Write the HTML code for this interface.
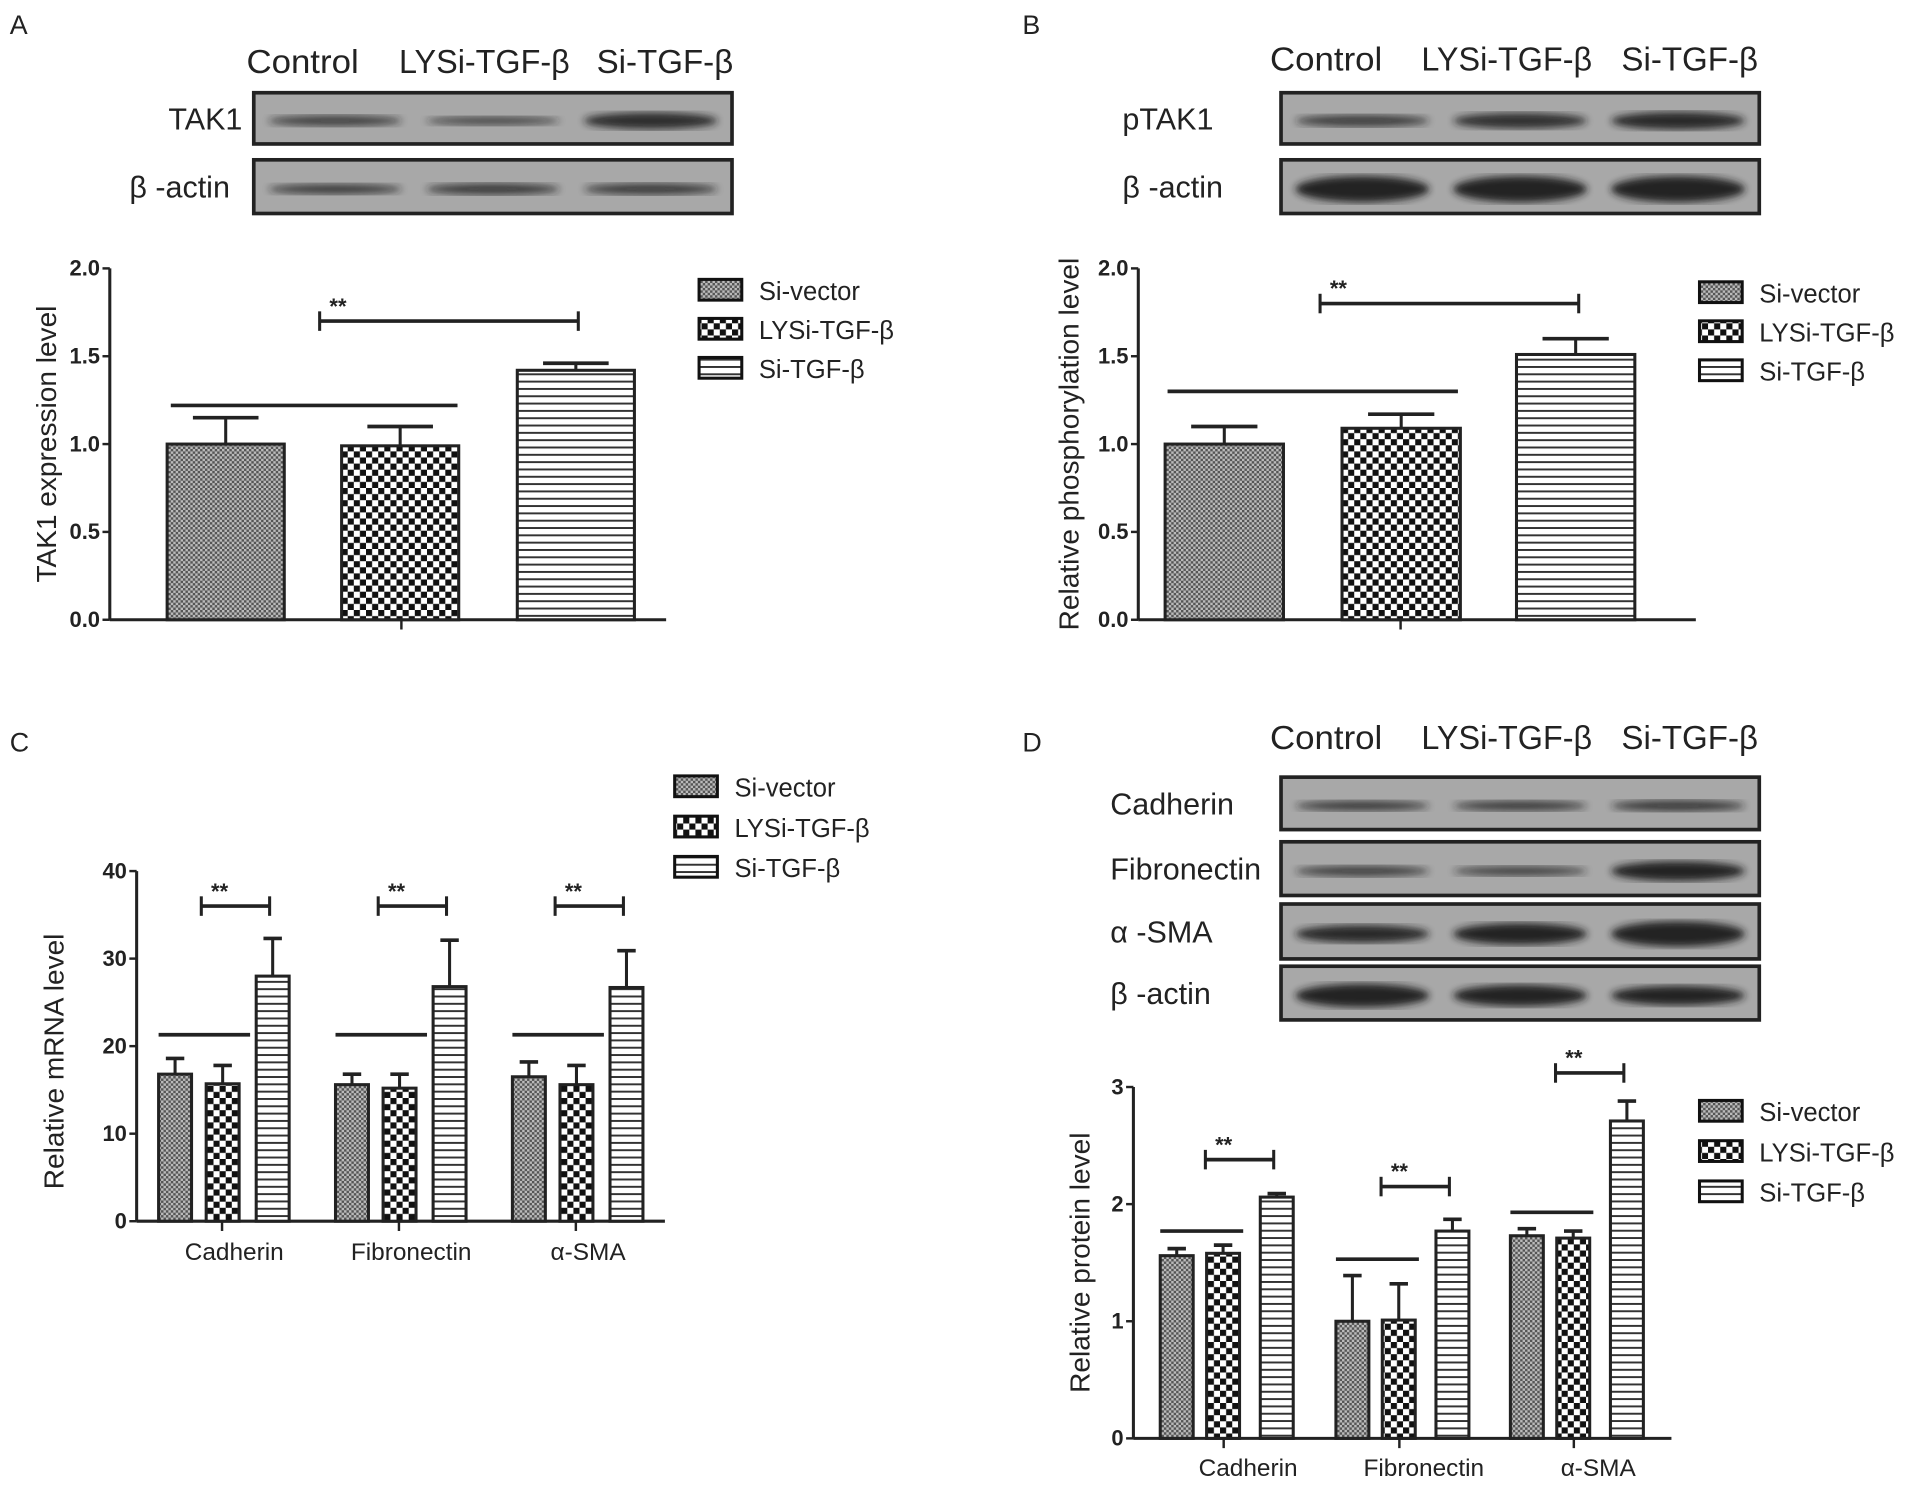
<!DOCTYPE html>
<html><head><meta charset="utf-8">
<style>
html,body{margin:0;padding:0;background:#fff;}
svg{display:block;}
text{font-family:"Liberation Sans",Arial,sans-serif;fill:#222;}
</style></head>
<body>
<svg id="fig" width="1913" height="1489" viewBox="0 0 1568 1220.5" preserveAspectRatio="none" xmlns="http://www.w3.org/2000/svg">
<defs>
<pattern id="pFine" width="4" height="4" patternUnits="userSpaceOnUse"><rect width="4" height="4" fill="#bbb"/><rect width="2" height="2" fill="#555"/><rect x="2" y="2" width="2" height="2" fill="#555"/></pattern>
<pattern id="pChk" width="10" height="10" patternUnits="userSpaceOnUse"><rect width="10" height="10" fill="#fff"/><rect width="5" height="5" fill="#111"/><rect x="5" y="5" width="5" height="5" fill="#111"/></pattern>
<pattern id="pStr" width="6" height="6" patternUnits="userSpaceOnUse"><rect width="6" height="6" fill="#fff"/><rect y="0" width="6" height="1.6" fill="#333"/></pattern>
<filter id="blur"><feGaussianBlur stdDeviation="3"/></filter>
</defs>
<g id="root"></g>
</svg>
<script>
// ---- data ----
const groupNames = ["Si-vector","LYSi-TGF-β","Si-TGF-β"];
const catsC = ["Cadherin","Fibronectin","α-SMA"];
const catsD = ["Cadherin","Fibronectin","α-SMA"];
const valsA = [1.0, 0.99, 1.42];
const errA = [1.15, 1.10, 1.46];
const valsB = [1.0, 1.09, 1.51];
const errB = [1.10, 1.17, 1.60];
const valsC_vec = [16.8, 15.6, 16.5];
const valsC_ly = [15.7, 15.2, 15.6];
const valsC_si = [28.0, 26.8, 26.7];
const errC_vec = [18.6, 16.8, 18.2];
const errC_ly = [17.8, 16.8, 17.8];
const errC_si = [32.3, 32.1, 30.9];
const valsD_vec = [1.56, 1.0, 1.73];
const valsD_ly = [1.58, 1.01, 1.71];
const valsD_si = [2.06, 1.77, 2.71];
const errD_vec = [1.62, 1.39, 1.79];
const errD_ly = [1.65, 1.32, 1.77];
const errD_si = [2.09, 1.87, 2.88];
const ticksAB = ["0.0","0.5","1.0","1.5","2.0"];
const ticksC = ["0","10","20","30","40"];
const ticksD = ["0","1","2","3"];
const sigA = [1.70, 1.22];
const sigB = [1.80, 1.30];
const sigC = [36, 21.3];
const sigD_brk = [2.38, 2.15, 3.12];
const sigD_line = [1.77, 1.53, 1.93];

const NS="http://www.w3.org/2000/svg";
const root=document.getElementById('root');
const fills=["url(#pFine)","url(#pChk)","url(#pStr)"];
function mk(tag,attrs,parent){const e=document.createElementNS(NS,tag);for(const k in attrs)e.setAttribute(k,attrs[k]);(parent||root).appendChild(e);return e;}
function txt(s,x,y,size,anchor,parent,extra){const t=mk('text',Object.assign({x:x,y:y,'font-size':size,'text-anchor':anchor||'start'},extra||{}),parent);t.textContent=s;return t;}

function panelLabel(s,x,y){const t=txt(s,x,y,22,'start');}

function blot(g,x,y,w,h,label,lx,intens,bw){
  const b=mk('g',{},g);
  
  
  mk('rect',{x:x,y:y,width:w,height:h,fill:'#a8a8a8',stroke:'#222','stroke-width':3},b);
  const cx=[x+w*0.17,x+w*0.5,x+w*0.83];
  for(let i=0;i<3;i++){
    mk('ellipse',{cx:cx[i],cy:y+h/2+2,rx:w*0.14,ry:bw*intens[i],fill:'#1a1a1a',opacity:Math.min(0.95,0.45+0.5*intens[i]),filter:'url(#blur)'},b);
  }
  txt(label,lx,y+h/2+9,25,'start',b);
}
function header(g,y,xs){
  const names=["Control","LYSi-TGF-β","Si-TGF-β"];
  for(let i=0;i<3;i++){const t=txt(names[i],xs[i],y,27,'middle',g,{'textLength':i==0?92:(i==1?140:112),'lengthAdjust':'spacingAndGlyphs'});}
}
function legend(g,x,y0,dy){
  for(let i=0;i<3;i++){
    const lg=mk('g',{},g);
    
    
    mk('rect',{x:x,y:y0+i*dy-8,width:35,height:17,fill:fills[i],stroke:'#111','stroke-width':2.5},lg);
    txt(groupNames[i],x+49,y0+i*dy+9,21,'start',lg,{fill:'#444'});
  }
}
function axes(g,ax,y0,xEnd,ticks,scale,title,tx,tcy){
  const a=mk('g',{},g);
  
  
  mk('line',{x1:ax,y1:scale(+ticks[ticks.length-1]),x2:ax,y2:y0,stroke:'#222','stroke-width':2.5},a);
  ticks.forEach(t=>{const y=scale(+t);mk('line',{x1:ax-6,y1:y,x2:ax,y2:y,stroke:'#222','stroke-width':2},a);txt(t,ax-8,y+6,18,'end',a,{'font-weight':'bold'});});
  const xa=mk('line',{x1:ax,y1:y0,x2:xEnd,y2:y0,stroke:'#222','stroke-width':2.5},g);
  
  
  const tt=txt(title,tx,tcy,23,'middle',g,{transform:'rotate(-90 '+tx+' '+tcy+')'});
  
  
}
function bar(g,x,w,v,e,scale,i,name){
  const y0=scale(0),y=scale(v),ye=scale(e),cx=x+w/2;
  mk('line',{x1:cx,y1:y,x2:cx,y2:ye,stroke:'#222','stroke-width':2.5},g);
  mk('line',{x1:cx-w*0.28,y1:ye,x2:cx+w*0.28,y2:ye,stroke:'#222','stroke-width':3},g);
  const r=mk('rect',{x:x,y:y,width:w,height:y0-y,fill:fills[i],stroke:'#222','stroke-width':2.5},g);
  
  
}
function bracket(g,x1,x2,y,name){
  const b=mk('g',{},g);
  
  
  mk('line',{x1:x1,y1:y,x2:x2,y2:y,stroke:'#222','stroke-width':3},b);
  mk('line',{x1:x1,y1:y-8,x2:x1,y2:y+8,stroke:'#222','stroke-width':2.5},b);
  mk('line',{x1:x2,y1:y-8,x2:x2,y2:y+8,stroke:'#222','stroke-width':2.5},b);
  txt('**',x1+8,y-6,18,'start',b,{'font-weight':'bold'});
}
function hline(g,x1,x2,y,name){const l=mk('line',{x1:x1,y1:y,x2:x2,y2:y,stroke:'#222','stroke-width':3},g);}

// ---- Panel A ----
(function(){
  const g=mk('g',{});
  panelLabel('A',8,28);
  header(g,60,[248,397,545]);
  blot(g,208,76,392,42,'TAK1',138,[0.55,0.45,0.85],8);
  blot(g,208,131,392,44,'β -actin',106,[0.6,0.65,0.65],7);
  const s=v=>508-v*144;
  axes(g,90,508,546,ticksAB,s,'TAK1 expression level',46,364);
  const xs=[137,280,424],w=96;
  for(let i=0;i<3;i++)bar(g,xs[i],w,valsA[i],errA[i],s,i,'bar-a-'+i);
  mk('line',{x1:329,y1:508,x2:329,y2:516,stroke:'#222','stroke-width':2},g);
  bracket(g,262,474,s(sigA[0]),'sig-bracket-a');
  hline(g,140,375,s(sigA[1]),'sig-line-a');
  legend(g,573,237,32);
})();
// ---- Panel B ----
(function(){
  const g=mk('g',{});
  panelLabel('B',838,28);
  header(g,58,[1087,1235,1385]);
  blot(g,1050,76,392,42,'pTAK1',920,[0.6,0.8,0.9],8);
  blot(g,1050,131,392,44,'β -actin',920,[1.2,1.2,1.2],9);
  const s=v=>508-v*144;
  axes(g,933,508,1390,ticksAB,s,'Relative phosphorylation level',884,364);
  const xs=[955,1100,1243],w=97;
  for(let i=0;i<3;i++)bar(g,xs[i],w,valsB[i],errB[i],s,i,'bar-b-'+i);
  mk('line',{x1:1148,y1:508,x2:1148,y2:516,stroke:'#222','stroke-width':2},g);
  bracket(g,1082,1294,s(sigB[0]),'sig-bracket-b');
  hline(g,957,1195,s(sigB[1]),'sig-line-b');
  legend(g,1393,239,32);
})();
// ---- Panel C ----
(function(){
  const g=mk('g',{});
  panelLabel('C',8,616);
  const s=v=>1001-v*7.175;
  axes(g,112,1001,545,ticksC,s,'Relative mRNA level',52,870);
  const starts=[130,275,420],offs=[0,39,80],w=27;
  const V=[valsC_vec,valsC_ly,valsC_si],E=[errC_vec,errC_ly,errC_si];
  for(let c=0;c<3;c++){
    for(let i=0;i<3;i++)bar(g,starts[c]+offs[i],w,V[i][c],E[i][c],s,i,'bar-c-'+c+'-'+i);
    mk('line',{x1:starts[c]+52,y1:1001,x2:starts[c]+52,y2:1009,stroke:'#222','stroke-width':2},g);
    const t=txt(catsC[c],starts[c]+62,1033,20,'middle',g);
    bracket(g,starts[c]+35,starts[c]+91,s(sigC[0]),'sig-bracket-c-'+c);
    hline(g,starts[c],starts[c]+75,s(sigC[1]),'sig-line-c-'+c);
  }
  legend(g,553,644,33);
})();
// ---- Panel D ----
(function(){
  const g=mk('g',{});
  panelLabel('D',838,616);
  header(g,614,[1087,1235,1385]);
  blot(g,1050,637,392,43,'Cadherin',910,[0.6,0.6,0.65],7);
  blot(g,1050,690,392,44,'Fibronectin',910,[0.55,0.5,1.0],8);
  blot(g,1050,741,392,45,'α -SMA',910,[0.9,1.1,1.3],8);
  blot(g,1050,792,392,44,'β -actin',910,[1.2,1.1,1.0],8);
  const s=v=>1179-v*96;
  axes(g,929,1179,1370,ticksD,s,'Relative protein level',893,1035);
  const starts=[951,1095,1238],offs=[0,38,82],w=27;
  const V=[valsD_vec,valsD_ly,valsD_si],E=[errD_vec,errD_ly,errD_si];
  for(let c=0;c<3;c++){
    for(let i=0;i<3;i++)bar(g,starts[c]+offs[i],w,V[i][c],E[i][c],s,i,'bar-d-'+c+'-'+i);
    mk('line',{x1:starts[c]+52,y1:1179,x2:starts[c]+52,y2:1187,stroke:'#222','stroke-width':2},g);
    const t=txt(catsD[c],starts[c]+72,1210,20,'middle',g);
    bracket(g,starts[c]+37,starts[c]+93,s(sigD_brk[c]),'sig-bracket-d-'+c);
    hline(g,starts[c],starts[c]+68,s(sigD_line[c]),'sig-line-d-'+c);
  }
  legend(g,1393,910,33);
})();
</script>
</body></html>
